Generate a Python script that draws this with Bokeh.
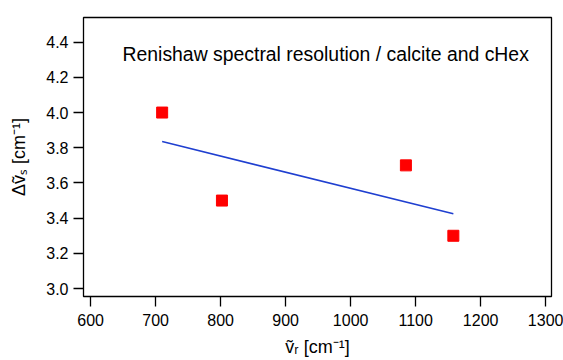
from bokeh.plotting import figure
from bokeh.models import Range1d, Label, FixedTicker, PrintfTickFormatter
from bokeh.embed import file_html
from bokeh.resources import INLINE

# data
raman_shift = [710, 802, 1085, 1158]
resolution = [4.0, 3.5, 3.7, 3.3]
fit_x = [710, 1158]
fit_y = [3.835, 3.425]
x_ticks = [600, 700, 800, 900, 1000, 1100, 1200, 1300]
y_ticks = [3.0, 3.2, 3.4, 3.6, 3.8, 4.0, 4.2, 4.4]
x_label = "ṽᵣ [cm⁻¹]"
y_label = "Δṽₛ [cm⁻¹]"
title_text = "Renishaw spectral resolution / calcite and cHex"

W, H = 563, 360
FONT = "Liberation Sans"

p = figure(width=W, height=H, output_backend="svg", toolbar_location=None,
           x_range=Range1d(589, 1309), y_range=Range1d(2.955, 4.54),
           min_border_left=83, min_border_right=12, min_border_top=17,
           min_border_bottom=64)
p.background_fill_color = "white"
p.border_fill_color = "white"
p.outline_line_color = "black"
p.outline_line_width = 1.3
p.xgrid.visible = False
p.ygrid.visible = False

for ax in (p.xaxis[0], p.yaxis[0]):
    ax.axis_line_color = None
    ax.major_tick_line_color = "black"
    ax.major_tick_line_width = 1.3
    ax.major_tick_in = 0
    ax.major_tick_out = 10
    ax.minor_tick_line_color = None
    ax.major_label_text_font = FONT
    ax.major_label_text_font_size = "16px"
    ax.major_label_text_color = "black"
    ax.axis_label_text_font = FONT
    ax.axis_label_text_font_size = "18px"
    ax.axis_label_text_font_style = "normal"
    ax.axis_label_text_color = "black"

p.xaxis[0].ticker = FixedTicker(ticks=x_ticks)
p.yaxis[0].ticker = FixedTicker(ticks=y_ticks)
p.xaxis[0].major_label_standoff = 7
p.yaxis[0].major_label_standoff = 5
p.yaxis[0].formatter = PrintfTickFormatter(format="%.1f")
p.xaxis[0].axis_label = x_label
p.yaxis[0].axis_label = y_label
p.xaxis[0].axis_label_standoff = 8
p.yaxis[0].axis_label_standoff = 14

p.line(fit_x, fit_y, line_color="#1f3fd0", line_width=1.5)
p.scatter(raman_shift, resolution, marker="square", size=11,
          fill_color="#ff0000", line_color="#ff0000")

p.add_layout(Label(x=122, y=53, x_units="canvas", y_units="canvas",
                   text=title_text, text_font=FONT, text_font_size="19.4px",
                   text_baseline="alphabetic", text_align="left",
                   text_color="black"))

open("out.html", "w").write(file_html(p, INLINE))
